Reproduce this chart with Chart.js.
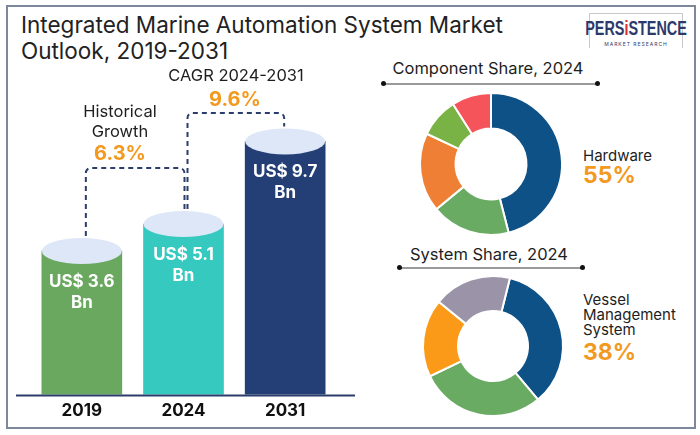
<!DOCTYPE html>
<html>
<head>
<meta charset="utf-8">
<script src="https://cdn.jsdelivr.net/npm/chart.js@4.4.1/dist/chart.umd.min.js"></script>
<style>
  body { margin: 0; width: 700px; height: 435px; background: #fff; position: relative; overflow: hidden; font-family: Inter, "Open Sans", sans-serif; color: #1e1e1e; }
  .abs { position: absolute; white-space: nowrap; }
  .c { transform: translate(-50%, -50%); text-align: center; }
  .l { transform: translateY(-50%); }
  .orange { color: #f3991f; font-weight: 700; }
  .rule { position: absolute; height: 1.5px; background: #9a9a9a; }
  .rule:before, .rule:after { content: ''; position: absolute; top: -2px; width: 5px; height: 5px; border-radius: 50%; background: #111; }
  .rule:before { left: -2px; }
  .rule:after { right: -2px; }
</style>
</head>
<body>
<div class="abs" style="left:6px;top:5px;width:686px;height:420px;border:2px solid #7e889d;"></div>

<div class="abs" style="left:21px;top:12px;font-size:22.5px;line-height:26px;color:#222;">Integrated Marine Automation System Market<br>Outlook, 2019-2031</div>

<div class="abs" style="left:589px;top:13px;width:92px;height:34px;border:1px solid #c9c9c9;border-bottom:none;">
  <div class="abs" style="left:50%;top:4px;transform:translateX(-50%) scaleX(0.72);font-family:'Liberation Sans',sans-serif;font-weight:700;font-size:20px;line-height:20px;color:#2c3a6b;">PERS<span style="color:#e02b3a;">i</span>STENCE</div>
  <div class="abs" style="left:50%;top:27px;transform:translateX(-50%);font-size:5px;line-height:6px;color:#2c3a6b;letter-spacing:1px;">MARKET RESEARCH</div>
</div>

<div style="position:absolute;left:0;top:0;width:360px;height:435px;"><canvas id="bars" width="360" height="435"></canvas></div>

<div class="abs c" style="left:120px;top:111px;font-size:16.5px;">Historical</div>
<div class="abs c" style="left:120px;top:131px;font-size:16.5px;">Growth</div>
<div class="abs c orange" style="left:120px;top:153px;font-size:20px;">6.3%</div>
<div class="abs c" style="left:236px;top:75px;font-size:16.5px;">CAGR 2024-2031</div>
<div class="abs c orange" style="left:235px;top:99px;font-size:20px;">9.6%</div>

<div class="abs c" style="left:488px;top:68px;font-size:16.5px;">Component Share, 2024</div>
<div class="rule" style="left:383px;top:83px;width:215px;"></div>
<div style="position:absolute;left:416px;top:89px;width:150px;height:150px;"><canvas id="component" width="150" height="150"></canvas></div>
<div class="abs l" style="left:583px;top:155px;font-size:15px;">Hardware</div>
<div class="abs l orange" style="left:583px;top:175px;font-size:23px;">55%</div>

<div class="abs c" style="left:489px;top:254px;font-size:16.5px;">System Share, 2024</div>
<div class="rule" style="left:399px;top:267px;width:184px;"></div>
<div style="position:absolute;left:418px;top:271px;width:150px;height:150px;"><canvas id="system" width="150" height="150"></canvas></div>
<div class="abs" style="left:583px;top:292px;font-size:15px;line-height:15px;">Vessel<br>Management<br>System</div>
<div class="abs l orange" style="left:583px;top:352px;font-size:23px;">38%</div>

<script>
// Market size, US$ Bn
const years = ['2019', '2024', '2031'];
const marketValues = [3.6, 5.1, 9.7];
const barColors = ['#6aa85f', '#35c9c0', '#233f75'];

// Component share, 2024 (%)
const componentLabels = ['Hardware', 'Segment 2', 'Segment 3', 'Segment 4', 'Segment 5'];
const componentShares = [46, 18, 18, 9, 9];
const componentColors = ['#0e5186', '#6aab63', '#ef7f34', '#79b345', '#f6545b'];

// System share, 2024 (%)
const systemLabels = ['Vessel Management System', 'Segment 2', 'Segment 3', 'Segment 4'];
const systemShares = [35, 29, 18, 18];
const systemColors = ['#0e5186', '#6aab63', '#fb9a18', '#9b94a8'];

// the infographic bars are not drawn from zero, so the hidden axis starts below it
const axisMin = -4.4;
const navy = '#2b3d6b';

const cylinderPlugin = {
  id: 'cylinder',
  afterDatasetsDraw(chart) {
    const ctx = chart.ctx;
    const bars = chart.getDatasetMeta(0).data;
    const base = chart.scales.y.getPixelForValue(axisMin);
    ctx.save();
    // baseline
    ctx.strokeStyle = navy;
    ctx.lineWidth = 2;
    ctx.beginPath();
    ctx.moveTo(16, base + 1);
    ctx.lineTo(355, base + 1);
    ctx.stroke();

    // caps and value labels
    bars.forEach((bar, i) => {
      ctx.fillStyle = '#dde7f7';
      ctx.beginPath();
      ctx.ellipse(bar.x, bar.y, bar.width / 2, 13, 0, 0, Math.PI * 2);
      ctx.fill();
      ctx.fillStyle = '#fff';
      ctx.font = 'bold 17px Inter';
      ctx.textAlign = 'center';
      ctx.textBaseline = 'middle';
      ctx.fillText('US$ ' + marketValues[i].toFixed(1), bar.x, bar.y + 31);
      ctx.fillText('Bn', bar.x, bar.y + 52);
    });

    // dashed growth connectors
    const elbows = [168, 113];
    ctx.setLineDash([5, 4]);
    ctx.strokeStyle = navy;
    ctx.lineWidth = 2;
    for (let i = 0; i < 2; i++) {
      const a = bars[i], b = bars[i + 1];
      const x0 = a.x + 4, x1 = b.x + (i ? -1 : 1);
      const ey = elbows[i];
      ctx.beginPath();
      ctx.moveTo(x0, a.y - 15);
      ctx.arcTo(x0, ey, x1, ey, 5);
      ctx.arcTo(x1, ey, x1, b.y - 15, 5);
      ctx.lineTo(x1, b.y - 15);
      ctx.stroke();
    }
    ctx.restore();
  }
};

new Chart(document.getElementById('bars'), {
  type: 'bar',
  data: {
    labels: years,
    datasets: [{
      data: marketValues,
      backgroundColor: barColors,
      base: axisMin,
      barThickness: 80
    }]
  },
  options: {
    responsive: false,
    animation: false,
    devicePixelRatio: 1,
    layout: { padding: { left: 31, right: 24, top: 136, bottom: 8 } },
    plugins: { legend: { display: false }, tooltip: { enabled: false } },
    scales: {
      x: {
        grid: { display: false, drawTicks: false },
        border: { display: false },
        ticks: { color: '#111', padding: 6, font: { family: 'Inter', size: 17, weight: 'bold' } }
      },
      y: { display: false, min: axisMin, max: 10 }
    }
  },
  plugins: [cylinderPlugin]
});

function donut(id, labels, values, colors, rotation, pad) {
  new Chart(document.getElementById(id), {
    type: 'doughnut',
    data: {
      labels: labels,
      datasets: [{ data: values, backgroundColor: colors, borderColor: '#fff', borderWidth: 2 }]
    },
    options: {
      responsive: false,
      animation: false,
      devicePixelRatio: 1,
      cutout: '50%',
      rotation: rotation,
      layout: { padding: pad },
      plugins: { legend: { display: false }, tooltip: { enabled: false } }
    }
  });
}

donut('component', componentLabels, componentShares, componentColors, 0, 3);
donut('system', systemLabels, systemShares, systemColors, 14, 4);
</script>
</body>
</html>
